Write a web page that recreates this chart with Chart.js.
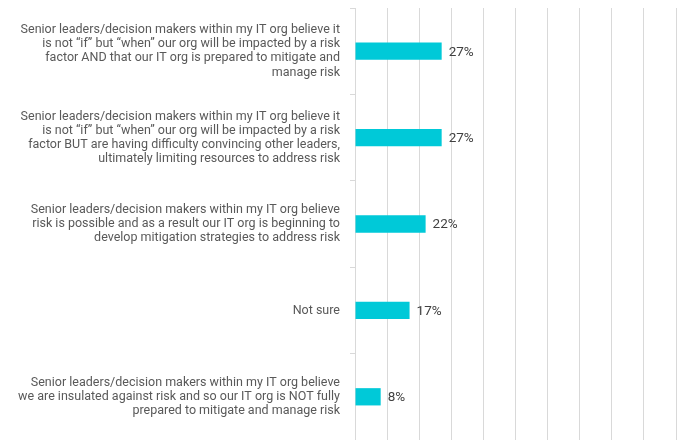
<!DOCTYPE html>
<html>
<head>
<meta charset="utf-8">
<script src="https://cdn.jsdelivr.net/npm/chart.js@4/dist/chart.umd.min.js"></script>
<style>
html,body{margin:0;padding:0;background:#fff;}
#wrap{width:678px;height:440px;position:relative;}
</style>
</head>
<body>
<div id="wrap"><canvas id="c"></canvas></div>
<script>
const categories = [
  ["Senior leaders/decision makers within my IT org believe it", "is not \u201cif\u201d but \u201cwhen\u201d our org will be impacted by a risk", "factor AND that our IT org is prepared to mitigate and", "manage risk"],
  ["Senior leaders/decision makers within my IT org believe it", "is not \u201cif\u201d but \u201cwhen\u201d our org will be impacted by a risk", "factor BUT are having difficulty convincing other leaders,", "ultimately limiting resources to address risk"],
  ["Senior leaders/decision makers within my IT org believe", "risk is possible and as a result our IT org is beginning to", "develop mitigation strategies to address risk"],
  "Not sure",
  ["Senior leaders/decision makers within my IT org believe", "we are insulated against risk and so our IT org is NOT fully", "prepared to mitigate and manage risk"]
];
const values = [27, 27, 22, 17, 8];
const valueLabels = ["27%", "27%", "22%", "17%", "8%"];

const endLabels = {
  id: 'endLabels',
  afterDatasetsDraw(chart) {
    const ctx = chart.ctx;
    const meta = chart.getDatasetMeta(0);
    ctx.save();
    ctx.font = '13.5px Roboto';
    ctx.fillStyle = '#404040';
    ctx.textAlign = 'left';
    ctx.textBaseline = 'middle';
    meta.data.forEach((bar, i) => {
      ctx.fillText(valueLabels[i], bar.x + 7, bar.y + 1);
    });
    ctx.restore();
  }
};

new Chart(document.getElementById('c'), {
  type: 'bar',
  data: {
    labels: categories,
    datasets: [{
      data: values,
      backgroundColor: '#00c9d8',
      borderWidth: 0,
      barPercentage: 0.2,
      categoryPercentage: 1.0
    }]
  },
  options: {
    indexAxis: 'y',
    responsive: true,
    maintainAspectRatio: false,
    animation: false,
    layout: { padding: { top: 8, right: 2, bottom: -3, left: 0 } },
    plugins: { legend: { display: false }, tooltip: { enabled: false } },
    scales: {
      x: {
        min: 0, max: 100,
        ticks: { display: false, stepSize: 10 },
        grid: { color: '#d9d9d9', drawTicks: false, lineWidth: 1 },
        border: { display: false }
      },
      y: {
        afterFit(scale) { scale.width = 355; scale.paddingTop = 0; scale.paddingBottom = 0; },
        ticks: {
          color: '#595959',
          font: { family: 'Roboto', size: 12.5, lineHeight: 1.13 },
          padding: 10,
          autoSkip: false
        },
        grid: { drawOnChartArea: false, drawTicks: true, tickLength: 5, color: '#d9d9d9', offset: true },
        border: { display: true, color: '#d9d9d9' }
      }
    }
  },
  plugins: [endLabels]
});
</script>
</body>
</html>
